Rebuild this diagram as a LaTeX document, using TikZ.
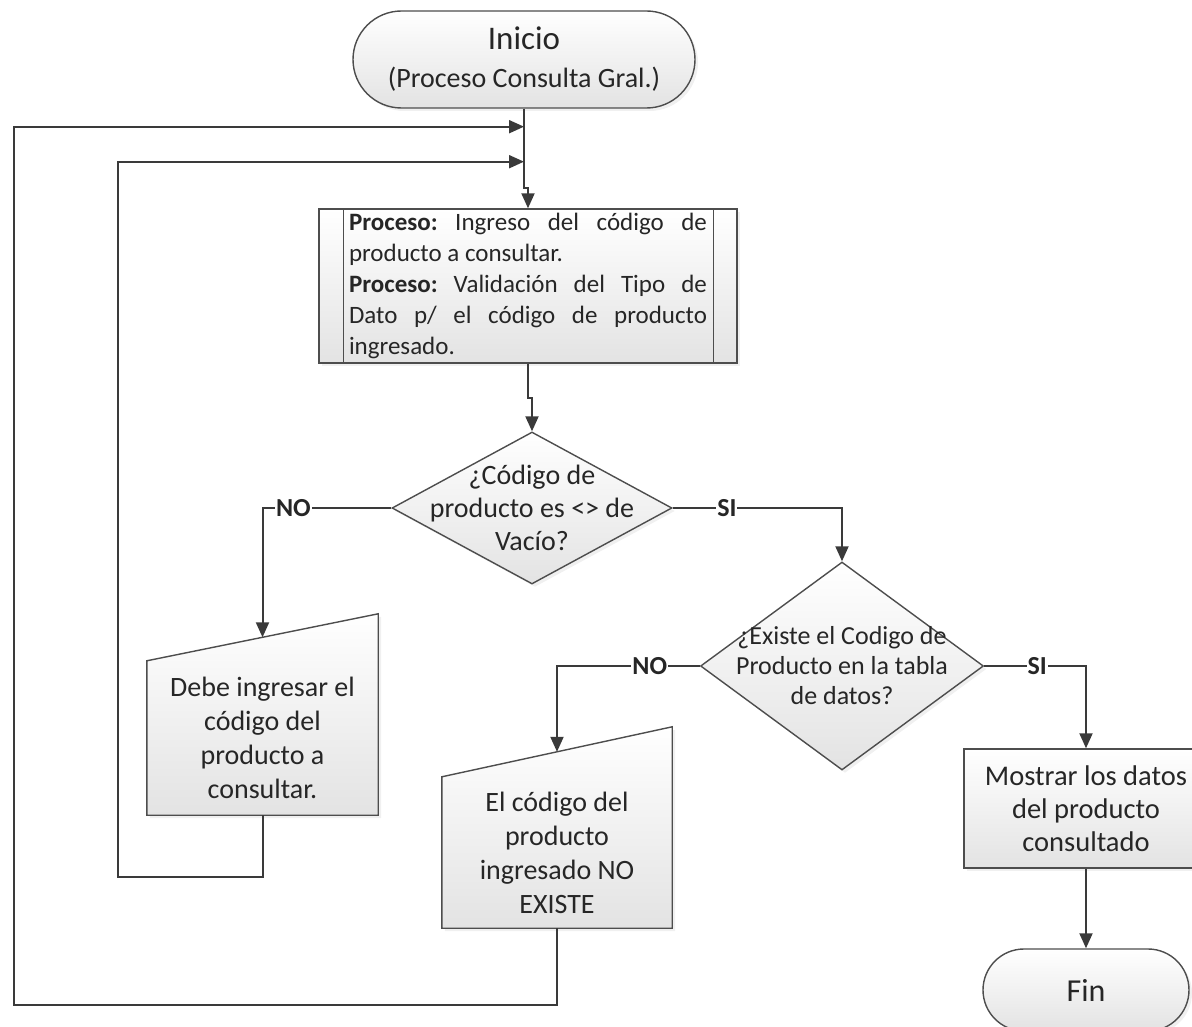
\documentclass[tikz,border=0pt]{standalone}
\usepackage{fontspec}
\setmainfont{Carlito}
\usetikzlibrary{arrows.meta, shapes.geometric, shapes.misc, calc, backgrounds, shadows}
\definecolor{linegray}{HTML}{3A3A3A}
\definecolor{edgegray}{HTML}{4D4D4D}
\frenchspacing

\begin{document}
\begin{tikzpicture}[x = 1pt, y = -1pt,
  every node/.style = {text = black!85, align = center, inner sep = 0pt},
  box/.style = {draw = edgegray, line width = 1.4pt, top color = white, bottom color = gray!22,
    drop shadow = {opacity = 0.12, shadow xshift = 3pt, shadow yshift = -3pt}},
  terminal/.style = {box, rounded rectangle},
  decision/.style = {box, diamond},
  flow/.style = {draw = linegray, line width = 2pt, -{Triangle[length = 15pt, width = 13pt]}},
  answer/.style = {fill = white, inner sep = 1pt, font = \fontsize{26}{30}\selectfont\bfseries}]

  \useasboundingbox (0, 0) rectangle (1192, 1027);

  \node [terminal, minimum width = 342pt, minimum height = 97pt, font = \fontsize{28}{34}\selectfont] (start) at (524, 59.5) {{\fontsize{33}{36}\selectfont Inicio}\\[4pt](Proceso Consulta Gral.)};

  \node [box, rectangle, minimum width = 418pt, minimum height = 154pt, text width = 358pt, align = justify, font = \fontsize{25}{31}\selectfont] (proc) at (528, 286)
    {\textbf{Proceso:} Ingreso del código de\linebreak producto a consultar.\\ \textbf{Proceso:} Validación del Tipo de\linebreak Dato p/ el código de producto\linebreak ingresado.};
  \draw [draw = edgegray, line width = 1.4pt] ([xshift = 25pt]proc.north west) -- ([xshift = 25pt]proc.south west);
  \draw [draw = edgegray, line width = 1.4pt] ([xshift = -24pt]proc.north east) -- ([xshift = -24pt]proc.south east);

  \node [decision, minimum width = 280pt, minimum height = 152pt] (dec1) at (532, 508) {};
  \node [font = \fontsize{28}{33}\selectfont] (dec1text) at (dec1) {¿Código de\\producto es <> de\\Vacío?};

  \node [decision, minimum width = 283pt, minimum height = 208pt] (dec2) at (842, 666) {};
  \node [font = \fontsize{26}{30}\selectfont] (dec2text) at (dec2) {¿Existe el Codigo de\\Producto en la tabla\\de datos?};

  % manual input shapes
  \node [minimum width = 231pt, minimum height = 154pt, font = \fontsize{28}{34}\selectfont] (in1) at (262.5, 738) {Debe ingresar el\\código del\\producto a\\consultar.};
  \node [minimum width = 230pt, minimum height = 151pt, font = \fontsize{28}{34}\selectfont] (in2) at (557, 852.5) {El código del\\producto\\ingresado NO\\EXISTE};
  \begin{pgfonlayer}{background}
    \path [box] (in1.south west) -- (in1.north west) -- ([yshift = 47pt]in1.north east) -- (in1.south east) -- cycle;
    \path [box] (in2.south west) -- (in2.north west) -- ([yshift = 50pt]in2.north east) -- (in2.south east) -- cycle;
  \end{pgfonlayer}

  \node [box, rectangle, minimum width = 244pt, minimum height = 119pt, font = \fontsize{28.5}{33}\selectfont] (show) at (1086, 808.5) {Mostrar los datos\\del producto\\consultado};

  \node [terminal, minimum width = 206pt, minimum height = 82pt, font = \fontsize{32}{36}\selectfont] (fin) at (1086, 990) {Fin};

  \coordinate (loopA) at ($(start.south) + (0, 18)$);
  \coordinate (loopB) at ($(start.south) + (0, 53)$);
  \coordinate (in1top) at ([yshift = 23.5pt]in1.north);
  \coordinate (in2top) at ([yshift = 25pt]in2.north);

  \draw [flow] (start.south) -- ++(0, 79) -| (proc.north);
  \draw [flow] (proc.south) -- ++(0, 34) -| (dec1.north);
  \draw [flow] (dec1.west) -| node [answer, pos = 0.38] (no1) {NO} (in1top);
  \draw [flow] (dec1.east) -| node [answer, pos = 0.16] (si1) {SI} (dec2.north);
  \draw [flow] (dec2.west) -| node [answer, pos = 0.175] (no2) {NO} (in2top);
  \draw [flow] (dec2.east) -| node [answer, pos = 0.26] (si2) {SI} (show.north);
  \draw [flow] (show.south) -- (fin.north);

  \draw [flow] (in1.south) |- (118, 877) |- (loopB);
  \draw [flow] (in2.south) |- (14, 1005) |- (loopA);

\end{tikzpicture}
\end{document}
